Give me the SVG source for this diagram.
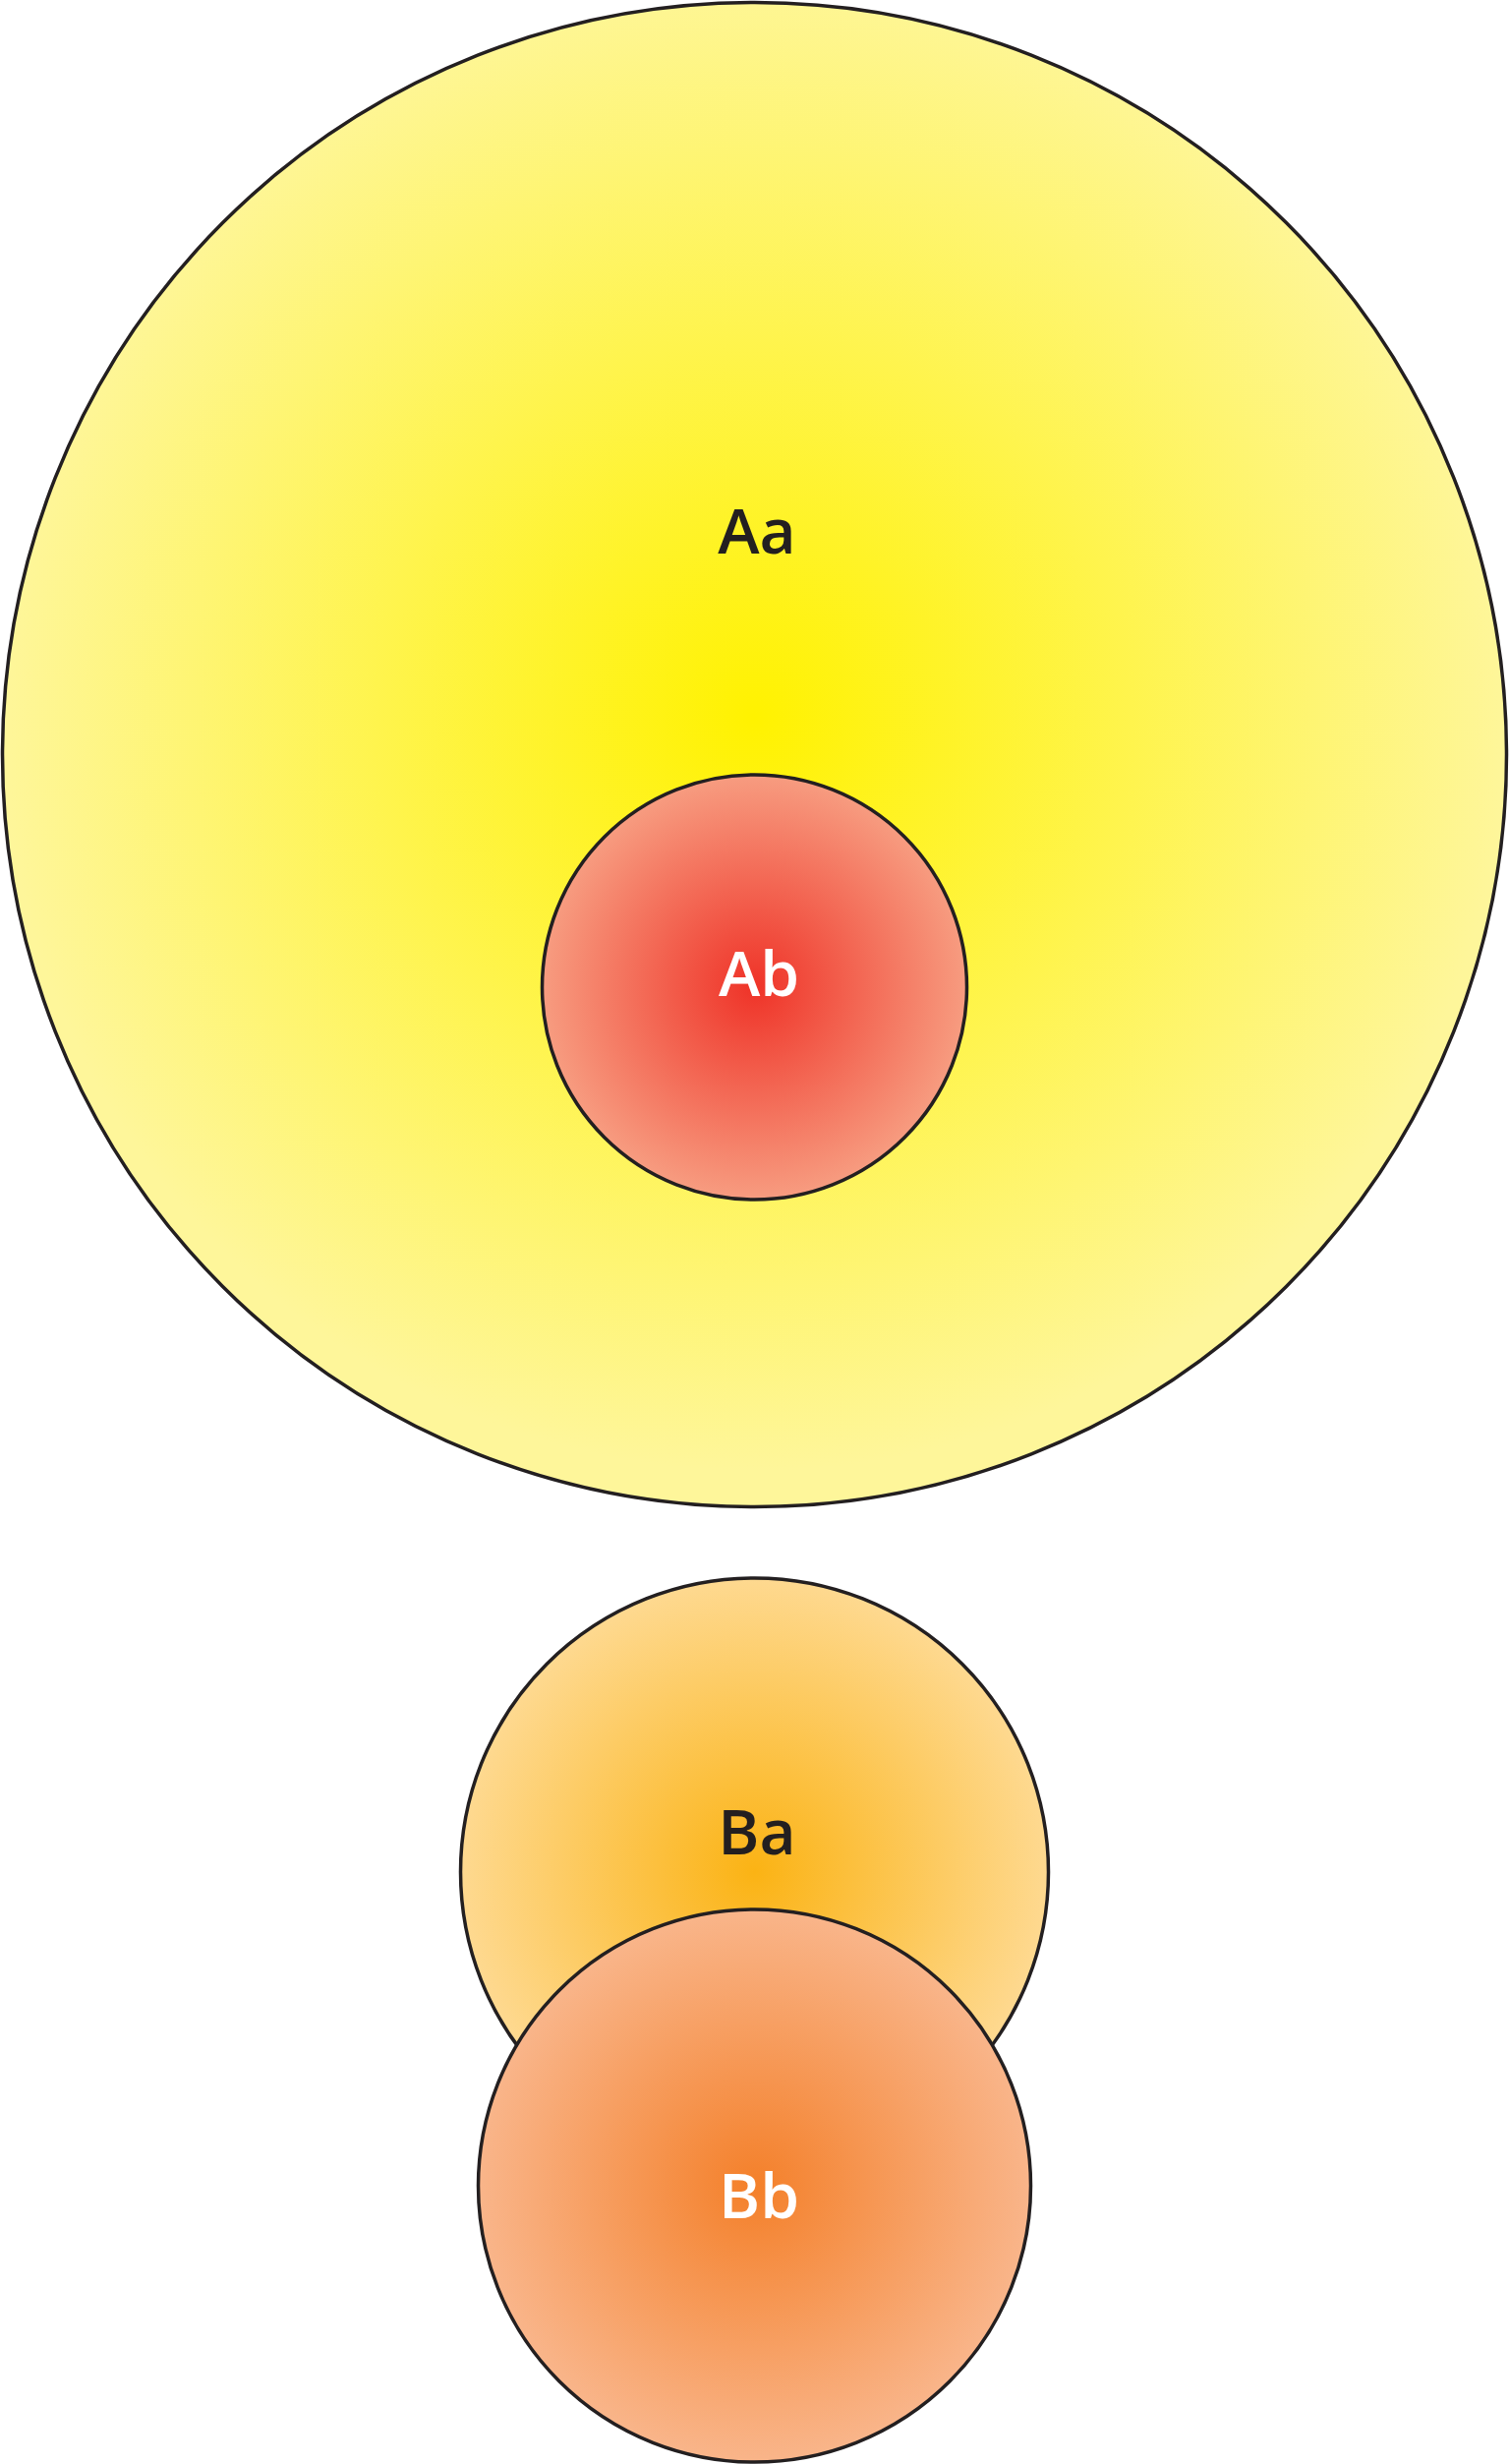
<svg xmlns="http://www.w3.org/2000/svg" width="1535" height="2506" viewBox="0 0 1535 2506">
<style>
.c{stroke:#231F20;stroke-width:3.5}
.t{font-family:"Open Sans","Liberation Sans",sans-serif;font-weight:600;font-size:64px;text-anchor:middle}
</style>
<defs>
<radialGradient id="gA" cx="767.5" cy="730" r="766" gradientUnits="userSpaceOnUse"><stop offset="0" stop-color="#FFF200"/><stop offset="1" stop-color="#FEF69A"/></radialGradient>
<radialGradient id="gAb" cx="767.5" cy="1004" r="216" gradientUnits="userSpaceOnUse"><stop offset="0" stop-color="#EF3328"/><stop offset="1" stop-color="#F79C80"/></radialGradient>
<radialGradient id="gBa" cx="767.5" cy="1904" r="299" gradientUnits="userSpaceOnUse"><stop offset="0" stop-color="#FBB314"/><stop offset="1" stop-color="#FED990"/></radialGradient>
<radialGradient id="gBb" cx="767.5" cy="2223" r="281" gradientUnits="userSpaceOnUse"><stop offset="0" stop-color="#F4802A"/><stop offset="1" stop-color="#F9B58A"/></radialGradient>
</defs>
<g id="Aa"><circle class="c" cx="767.5" cy="767.5" r="765" fill="url(#gA)"/><text class="t" x="770" y="563" fill="#231F20">Aa</text></g>
<g id="Ab"><circle class="c" cx="767.5" cy="1004" r="216" fill="url(#gAb)"/><text class="t" x="772" y="1013" fill="#FFFFFF">Ab</text></g>
<g id="Ba"><circle class="c" cx="767.5" cy="1904" r="299" fill="url(#gBa)"/><text class="t" x="770" y="1886" fill="#231F20">Ba</text></g>
<g id="Bb"><circle class="c" cx="767.5" cy="2223" r="281" fill="url(#gBb)"/><text class="t" x="772" y="2256" fill="#FFFFFF">Bb</text></g>
<g id="connectors"/>
</svg>
